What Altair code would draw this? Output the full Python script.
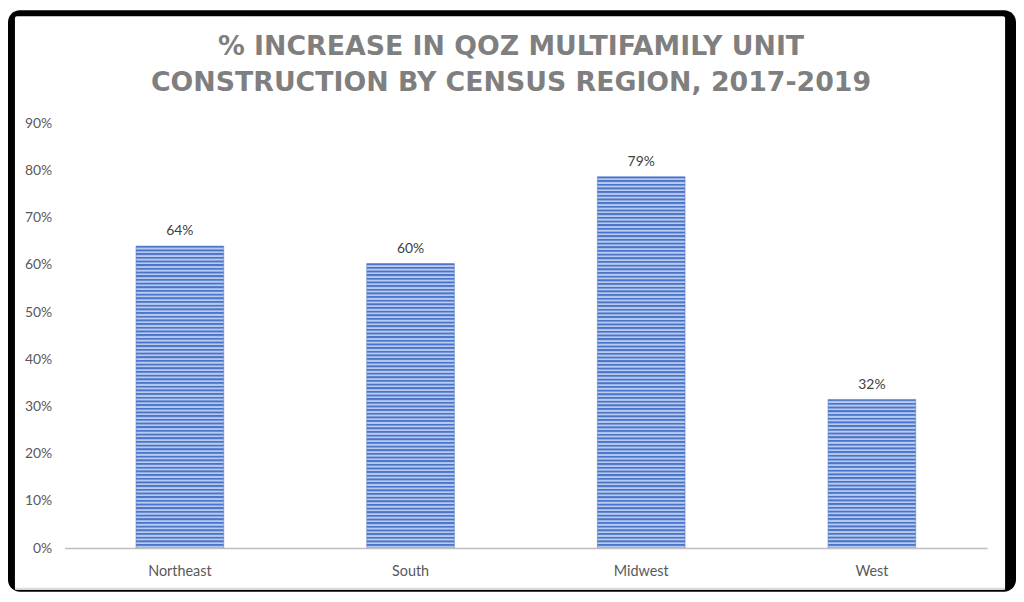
import altair as alt
import pandas as pd

regions = ["Northeast", "South", "Midwest", "West"]
values = [64, 60.3, 78.7, 31.5]
labels = ["64%", "60%", "79%", "32%"]
y_ticks = [0, 10, 20, 30, 40, 50, 60, 70, 80, 90]
title_lines = ["% INCREASE IN QOZ MULTIFAMILY UNIT", "CONSTRUCTION BY CENSUS REGION, 2017-2019"]

df = pd.DataFrame({"region": regions, "value": values, "label": labels})

W, H = 930, 428
YMAX = 90
DARK = "#4a74c8"
LIGHT = "#b8caef"
PERIOD = 3.7

def stripes(v):
    h = v / YMAX * H
    n = max(1, round(h / PERIOD))
    stops = []
    for i in range(n):
        stops += [
            {"offset": i / n, "color": DARK},
            {"offset": (i + 0.25) / n, "color": DARK},
            {"offset": (i + 0.6) / n, "color": LIGHT},
            {"offset": (i + 0.85) / n, "color": LIGHT},
        ]
    stops.append({"offset": 1, "color": DARK})
    return {"gradient": "linear", "x1": 0, "y1": 0, "x2": 0, "y2": 1, "stops": stops}

xenc = alt.X("region:N", sort=regions, title=None,
             scale=alt.Scale(paddingInner=0.62, paddingOuter=0.31),
             axis=alt.Axis(labelAngle=0, ticks=False, domainColor="#bfbfbf", domainWidth=1.5,
                           labelPadding=17, labelFont="Lato", labelFontSize=14.5, labelColor="#595959",
                           zindex=1))
yenc = alt.Y("value:Q", title=None,
             scale=alt.Scale(domain=[0, YMAX], nice=False),
             axis=alt.Axis(values=y_ticks, labelExpr="datum.value + '%'", grid=False, domain=False,
                           ticks=False, labelPadding=13, labelFont="Lato", labelFontSize=14,
                           labelColor="#595959", zindex=1))

one = pd.DataFrame({"a": [0]})
black = alt.Chart(one).mark_rect(color="black", cornerRadius=12).encode(
    x=alt.value(-57), x2=alt.value(959), y=alt.value(-114), y2=alt.value(472))
white = alt.Chart(one).mark_rect(color="white", cornerRadius=2).encode(
    x=alt.value(-50), x2=alt.value(948), y=alt.value(-108), y2=alt.value(470))
shadow = alt.Chart(one).mark_rule(color="#dcdcdc", strokeWidth=2).encode(
    x=alt.value(-50), x2=alt.value(948), y=alt.value(469))

title = alt.Chart(one).mark_text(font="DejaVu Sans", fontSize=27, fontWeight="bold", color="#7f7f7f",
                                 baseline="alphabetic", align="center", lineHeight=36).encode(
    x=alt.value(450), y=alt.value(-69), text=alt.value(title_lines))

base = alt.Chart(df)
bars = []
for r, v in zip(regions, values):
    bars.append(base.transform_filter(alt.datum.region == r).mark_bar(
        fill=stripes(v), stroke="#5b80cc", strokeWidth=0.6).encode(x=xenc, y=yenc))

text = base.mark_text(baseline="bottom", dy=-8, font="Lato", fontSize=14, color="#404040").encode(
    x=alt.X("region:N", sort=regions), y="value:Q", text="label:N")

chart = alt.layer(black, white, shadow, title, *bars, text).properties(
    width=W, height=H,
    autosize=alt.AutoSizeParams(type="none"),
    padding={"left": 57, "top": 114, "right": 29, "bottom": 44},
    background="white",
).configure_view(stroke=None)

chart.save("out.html", embed_options={"renderer": "svg", "actions": False})
